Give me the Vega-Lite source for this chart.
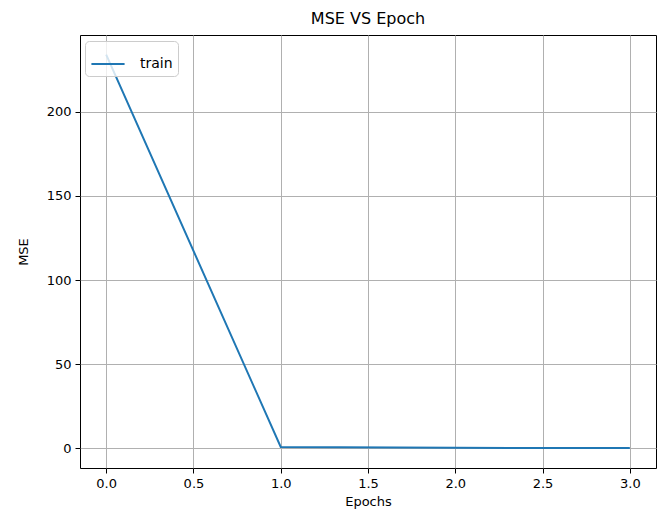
{
  "$schema": "https://vega.github.io/schema/vega-lite/v6.json",
  "width": 576,
  "height": 433,
  "autosize": {"type": "none"},
  "padding": {"left": 80, "top": 35, "right": 5, "bottom": 53},
  "background": "white",
  "title": {"text": "MSE VS Epoch", "font": "DejaVu Sans", "fontSize": 16, "fontWeight": "normal", "color": "#000", "offset": 8},
  "data": {"values": [
    {"epoch": 0, "mse": 234, "series": "train"},
    {"epoch": 1, "mse": 0.8, "series": "train"},
    {"epoch": 2, "mse": 0.3, "series": "train"},
    {"epoch": 3, "mse": 0.15, "series": "train"}
  ]},
  "config": {
    "view": {"stroke": "#000", "strokeWidth": 1},
    "axis": {
      "labelFont": "DejaVu Sans", "labelFontSize": 13, "labelColor": "#000",
      "titleFont": "DejaVu Sans", "titleFontSize": 13, "titleFontWeight": "normal", "titleColor": "#000",
      "tickColor": "#000", "tickSize": 5, "domain": false,
      "gridColor": "#b0b0b0", "gridWidth": 1, "gridOpacity": 1
    }
  },
  "mark": {"type": "line", "strokeWidth": 2},
  "encoding": {
    "x": {"field": "epoch", "type": "quantitative",
      "scale": {"domain": [-0.15, 3.15], "nice": false, "zero": false},
      "axis": {"values": [0, 0.5, 1, 1.5, 2, 2.5, 3], "format": ".1f", "title": "Epochs", "labelPadding": 4, "titlePadding": 5}},
    "y": {"field": "mse", "type": "quantitative",
      "scale": {"domain": [-11.7, 245.7], "nice": false, "zero": false},
      "axis": {"values": [0, 50, 100, 150, 200], "title": "MSE", "labelPadding": 4, "titlePadding": 16}},
    "color": {"field": "series", "type": "nominal",
      "scale": {"range": ["#1f77b4"]},
      "legend": {"title": null, "orient": "none", "legendX": 5, "legendY": 6,
        "symbolType": "stroke", "symbolSize": 1100, "symbolStrokeWidth": 2,
        "labelOffset": 14, "labelFont": "DejaVu Sans", "labelFontSize": 14, "labelColor": "#000",
        "fillColor": "rgba(255,255,255,0.8)", "strokeColor": "#cccccc", "cornerRadius": 4, "padding": 5}}
  }
}
